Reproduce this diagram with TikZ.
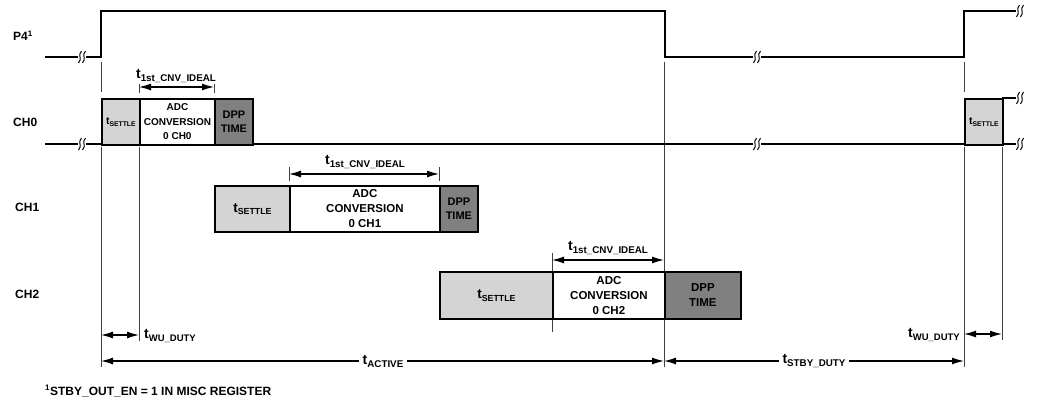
\documentclass[tikz,border=0pt]{standalone}
\usepackage{fontspec}
\setmainfont{Liberation Sans}
\usetikzlibrary{arrows.meta}
% t with subscript: #1 size of t, #2 size of subscript, #3 drop, #4 text
\newcommand\tlab[4]{{\fontsize{#1}{#1}\selectfont t}\raisebox{-#3}{\fontsize{#2}{#2}\selectfont #4}}
\tikzset{
  sig/.style={line width=1.8pt, line join=miter},
  guide/.style={line width=0.9pt, draw=black!75},
  box/.style={draw, line width=1.8pt, inner sep=0pt, anchor=north west, align=center},
  settle/.style={box, fill=black!17},
  adc/.style={box, fill=white},
  dpp/.style={box, fill=black!50},
  dim/.style={line width=1.2pt, {Latex[length=12pt,width=7pt]}-{Latex[length=12pt,width=7pt]}},
  lbl/.style={font=\bfseries\fontsize{12}{14}\selectfont, inner sep=0pt},
  big/.style={font=\bfseries\fontsize{11.5}{15}\selectfont},
  mid/.style={font=\bfseries\fontsize{11}{14}\selectfont},
  small/.style={font=\bfseries\fontsize{10}{14.5}\selectfont},
  brk/.pic={
    \fill[white] (-4,-6.5) rectangle (4,6.5);
    \foreach \d in {-2,2}
      \draw[line width=1pt] (\d-1.5,6) .. controls (\d+2.5,2) and (\d-2.5,-2) .. (\d+1.5,-6);
  }
}
\begin{document}
\begin{tikzpicture}[x=1pt,y=-1pt]
\useasboundingbox (0,0) rectangle (1039,400);

% guides
\draw[guide] (101,62) -- (101,92);
\draw[guide] (101,147) -- (101,367);
\draw[guide] (139,84) -- (139,93);
\draw[guide] (139,147) -- (139,341);
\draw[guide] (214,84) -- (214,93);
\draw[guide] (289,167) -- (289,181);
\draw[guide] (439,167) -- (439,181);
\draw[guide] (552,253) -- (552,332);
\draw[guide] (664,62) -- (664,367);
\draw[guide] (964,62) -- (964,92);
\draw[guide] (964,147) -- (964,367);
\draw[guide] (1002,147) -- (1002,340);

% signals
\draw[sig] (45,57) -- (101,57) -- (101,11) -- (665,11) -- (665,57) -- (964,57) -- (964,11) -- (1018,11);
\draw[sig] (45,144) -- (1018,144);
\draw[sig] (1002,98) -- (1018,98);
\foreach \p in {(82,57),(757,57),(1020,11),(82,144),(757,144),(1020,144),(1020,98)}
  \pic at \p {brk};

% CH0 boxes
\node[settle, small, minimum width=38pt, minimum height=46pt] (s0) at (101,98) {\tlab{10.5}{6.8}{1.8pt}{SETTLE}};
\node[adc, small, minimum width=75pt, minimum height=46pt] (a0) at (139,98) {ADC\\CONVERSION\\0 CH0};
\node[dpp, mid, minimum width=38pt, minimum height=46pt] (d0) at (214,98) {DPP\\TIME};
\node[settle, small, minimum width=38pt, minimum height=46pt] (s3) at (964,98) {\tlab{10.5}{6.8}{1.8pt}{SETTLE}};

% CH1 boxes
\node[settle, big, minimum width=75pt, minimum height=46pt] (s1) at (214,185) {\tlab{13.5}{8.8}{2.5pt}{SETTLE}};
\node[adc, big, minimum width=150pt, minimum height=46pt] (a1) at (289,185) {ADC\\CONVERSION\\0 CH1};
\node[dpp, mid, minimum width=38pt, minimum height=46pt] (d1) at (439,185) {DPP\\TIME};

% CH2 boxes
\node[settle, big, minimum width=113pt, minimum height=47pt] (s2) at (439,271) {\tlab{13.5}{8.8}{2.5pt}{SETTLE}};
\node[adc, big, minimum width=112pt, minimum height=47pt] (a2) at (552,271) {ADC\\CONVERSION\\0 CH2};
\node[dpp, big, minimum width=76pt, minimum height=47pt] (d2) at (664,271) {DPP\\TIME};

% row labels
\node[lbl, anchor=west] (lp4) at (13,36) {P4\textsuperscript{1}};
\node[lbl, anchor=west] (lc0) at (13,122) {CH0};
\node[lbl, anchor=west] (lc1) at (15,207) {CH1};
\node[lbl, anchor=west] (lc2) at (15,294) {CH2};

% t1st arrows
\coordinate (c0a) at (139,87); \coordinate (c0b) at (214,87);
\draw[dim] (c0a) -- (c0b);
\node[lbl] (t0) at (176,76) {\tlab{14}{9.8}{3pt}{1st\_CNV\_IDEAL}};
\coordinate (c1a) at (289,174); \coordinate (c1b) at (439,174);
\draw[dim] (c1a) -- (c1b);
\node[lbl] (t1) at (365,162) {\tlab{14}{9.8}{3pt}{1st\_CNV\_IDEAL}};
\coordinate (c2a) at (552,260); \coordinate (c2b) at (664,260);
\draw[dim] (c2a) -- (c2b);
\node[lbl] (t2) at (608,248) {\tlab{14}{9.8}{3pt}{1st\_CNV\_IDEAL}};

% wake-up arrows
\coordinate (w0a) at (101,335); \coordinate (w0b) at (139,335);
\draw[dim] (w0a) -- (w0b);
\node[lbl, anchor=west] (tw0) at (144,336) {\tlab{14}{9.5}{3pt}{WU\_DUTY}};
\coordinate (w1a) at (964,334); \coordinate (w1b) at (1002,334);
\draw[dim] (w1a) -- (w1b);
\node[lbl, anchor=east] (tw1) at (960,335) {\tlab{14}{9.5}{3pt}{WU\_DUTY}};

% active / standby
\coordinate (ac0) at (101,361); \coordinate (ac1) at (664,361); \coordinate (sb1) at (964,361);
\draw[dim] (ac0) -- (ac1);
\draw[dim] (ac1) -- (sb1);
\node[lbl, fill=white, inner xsep=4pt] (tact) at (383,361) {\tlab{14}{9.8}{3pt}{ACTIVE}};
\node[lbl, fill=white, inner xsep=4pt] (tstb) at (814,361) {\tlab{14}{9.8}{3pt}{STBY\_DUTY}};

% footnote
\node[lbl, anchor=west] (fn) at (45,391) {\textsuperscript{1}STBY\_OUT\_EN = 1 IN MISC REGISTER};
\end{tikzpicture}
\end{document}
